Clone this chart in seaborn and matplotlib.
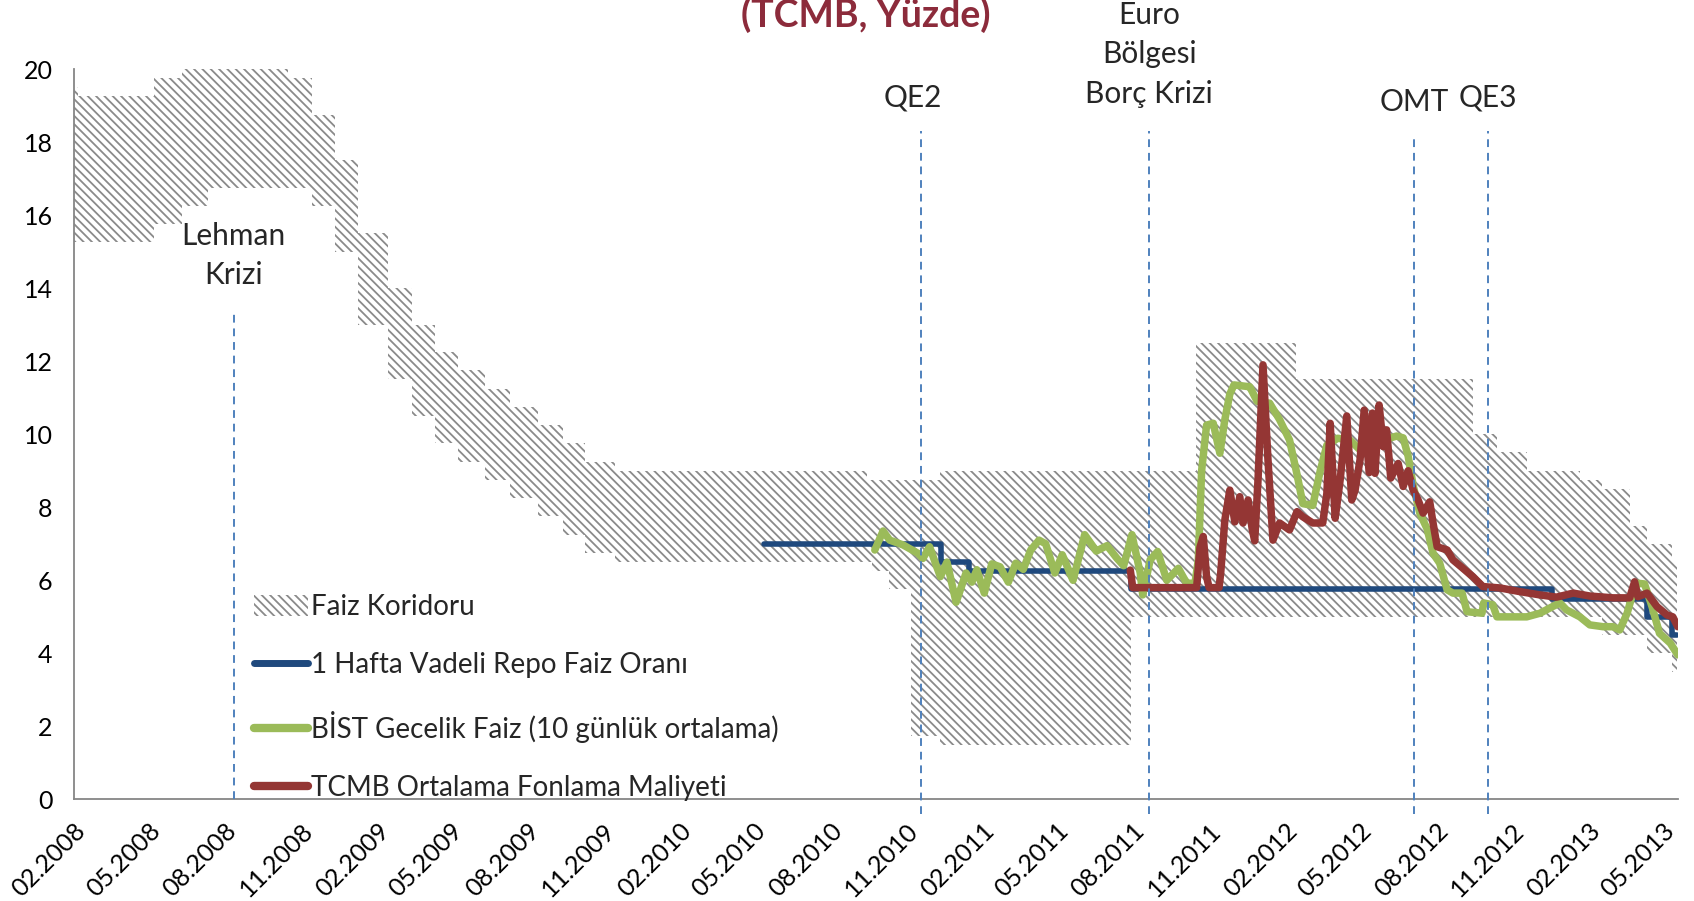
import pandas as pd
import numpy as np
import matplotlib
matplotlib.use("Agg")
import matplotlib.pyplot as plt
import matplotlib.dates as mdates
from matplotlib.patches import Patch
from matplotlib.lines import Line2D
import seaborn as sns

# =========================================
# DATA
# =========================================

# interest rate corridor: step changes (overnight borrowing / lending rate)
corridor_dates = ['2008-02-01', '2008-02-06', '2008-05-08', '2008-06-11', '2008-07-12',
                  '2008-10-17', '2008-11-15', '2008-12-12', '2009-01-09', '2009-02-14',
                  '2009-03-15', '2009-04-12', '2009-05-10', '2009-06-11', '2009-07-11',
                  '2009-08-14', '2009-09-13', '2009-10-10', '2009-11-15', '2010-09-14',
                  '2010-09-21', '2010-10-11', '2010-11-07', '2010-12-12', '2011-07-30',
                  '2011-10-16', '2012-02-14', '2012-09-14', '2012-10-13', '2012-11-18',
                  '2013-01-21', '2013-02-17', '2013-03-23', '2013-04-12', '2013-05-12',
                  '2013-05-18']
corridor_lower = [15.25, 15.25, 15.75, 16.25, 16.75, 16.75, 16.25, 15.0, 13.0, 11.5,
                  10.5, 9.75, 9.25, 8.75, 8.25, 7.75, 7.25, 6.75, 6.5, 6.5,
                  6.25, 5.75, 1.75, 1.5, 5.0, 5.0, 5.0, 5.0, 5.0, 5.0,
                  5.0, 4.5, 4.5, 4.0, 3.5, 3.5]
corridor_upper = [19.5, 19.25, 19.75, 20.25, 20.75, 19.75, 18.75, 17.5, 15.5, 14.0,
                  13.0, 12.25, 11.75, 11.25, 10.75, 10.25, 9.75, 9.25, 9.0, 8.75,
                  8.75, 8.75, 8.75, 9.0, 9.0, 12.5, 11.5, 10.0, 9.5, 9.0,
                  8.75, 8.5, 7.5, 7.0, 6.5, 6.5]

# 1 week repo rate (policy rate)
repo_dates = ['2010-05-14', '2010-12-13', '2011-01-16', '2011-07-30',
              '2012-12-18', '2013-04-12', '2013-05-12', '2013-05-18']
repo_rate = [7.0, 6.5, 6.25, 5.75, 5.5, 5.0, 4.5, 4.5]

# BIST overnight rate (10 day average) - days since 01.02.2008
green_day = [966, 976, 984, 1000, 1018, 1024, 1032, 1045, 1053, 1064,
             1076, 1083, 1089, 1098, 1107, 1117, 1127, 1136, 1145, 1154,
             1164, 1172, 1183, 1192, 1205, 1219, 1233, 1246, 1258, 1266,
             1276, 1286, 1289, 1298, 1307, 1318, 1332, 1342, 1352, 1356,
             1360, 1366, 1374, 1382, 1388, 1394, 1399, 1418, 1427, 1442,
             1454, 1466, 1475, 1482, 1494, 1503, 1511, 1524, 1539, 1554,
             1579, 1595, 1603, 1609, 1615, 1623, 1632, 1639, 1647, 1656,
             1663, 1674, 1680, 1698, 1700, 1711, 1716, 1735, 1752, 1768,
             1783, 1792, 1800, 1816, 1828, 1844, 1856, 1864, 1873, 1880,
             1886, 1894, 1903, 1912, 1925, 1934]
green_val = [6.83, 7.35, 7.1, 6.97, 6.74, 6.6, 6.92, 6.1, 6.5, 5.4,
             6.2, 5.95, 6.29, 5.65, 6.45, 6.37, 5.95, 6.47, 6.3, 6.83,
             7.1, 7.0, 6.2, 6.7, 6.0, 7.25, 6.8, 6.95, 6.6, 6.4,
             7.25, 6.2, 5.6, 6.56, 6.79, 6.0, 6.33, 5.92, 5.92, 6.56,
             9.0, 10.25, 10.3, 9.48, 10.4, 11.1, 11.35, 11.3, 10.9, 10.85,
             10.4, 9.84, 8.9, 8.1, 8.05, 9.0, 9.7, 9.89, 9.84, 9.5,
             9.84, 9.95, 9.9, 9.4, 8.6, 7.84, 7.4, 6.74, 6.47, 5.74,
             5.65, 5.65, 5.14, 5.1, 5.38, 5.33, 5.0, 5.0, 5.0, 5.1,
             5.28, 5.38, 5.19, 5.0, 4.78, 4.73, 4.73, 4.64, 5.1, 5.65,
             5.92, 5.9, 5.28, 4.55, 4.28, 3.96]

# TCMB average funding cost - days since 01.02.2008
red_day = [1274, 1277, 1354, 1358, 1362, 1366, 1369, 1381, 1383, 1388,
           1394, 1400, 1406, 1410, 1416, 1421, 1424, 1428, 1434, 1440,
           1446, 1454, 1466, 1475, 1482, 1494, 1506, 1511, 1515, 1521,
           1527, 1535, 1541, 1545, 1551, 1556, 1562, 1566, 1569, 1574,
           1579, 1583, 1588, 1597, 1603, 1609, 1615, 1621, 1627, 1635,
           1639, 1644, 1656, 1663, 1675, 1687, 1699, 1720, 1744, 1768,
           1788, 1808, 1828, 1856, 1876, 1882, 1886, 1897, 1909, 1921,
           1928, 1934]
red_val = [6.28, 5.8, 5.8, 6.9, 7.2, 6.1, 5.8, 5.8, 6.2, 7.65,
           8.47, 7.6, 8.29, 7.57, 8.2, 7.4, 7.08, 8.75, 11.9, 9.3,
           7.1, 7.57, 7.38, 7.88, 7.74, 7.57, 7.57, 8.38, 10.3, 7.7,
           8.75, 10.5, 8.2, 8.47, 9.3, 10.66, 8.95, 10.58, 8.93, 10.8,
           9.66, 10.12, 8.8, 9.2, 8.57, 9.0, 8.47, 8.2, 7.84, 8.15,
           7.57, 6.92, 6.83, 6.56, 6.33, 6.1, 5.83, 5.79, 5.69, 5.6,
           5.54, 5.65, 5.57, 5.52, 5.52, 5.96, 5.55, 5.65, 5.28, 5.05,
           5.0, 4.73]

# events
event_names = ['Lehman\nKrizi', 'QE2', 'Euro\nBölgesi\nBorç Krizi', 'OMT', 'QE3']
event_dates = ['2008-08-12', '2010-11-19', '2011-08-21', '2012-07-05', '2012-10-02']
event_top = [13.3, 18.3, 18.3, 18.2, 18.3]
event_bottom = [0, -0.4, -0.4, -0.4, -0.4]
event_text_y = [14.9, 19.23, 20.4, 19.1, 19.23]
event_text_dx = [0, -6, 0, 0, 0]

legend_labels = ['Faiz Koridoru', '1 Hafta Vadeli Repo Faiz Oranı',
                 'BİST Gecelik Faiz (10 günlük ortalama)', 'TCMB Ortalama Fonlama Maliyeti']

# =========================================
# PREP
# =========================================

base = pd.Timestamp('2008-02-01')
corridor_x = pd.to_datetime(corridor_dates)
repo_x = pd.to_datetime(repo_dates)
green_x = base + pd.to_timedelta(green_day, unit='D')
red_x = base + pd.to_timedelta(red_day, unit='D')
event_x = pd.to_datetime(event_dates)

BLUE = '#1F497D'
GREEN = '#9BBB59'
RED = '#943634'
DASH = '#4F81BD'
HATCH = '#8a8a8a'
AXIS = '#868686'
HATCH_PATTERN = '\\\\\\\\'

# =========================================
# PLOT
# =========================================

sns.set_style("white")
plt.rcParams['font.family'] = ['Lato', 'DejaVu Sans']
plt.rcParams['hatch.linewidth'] = 1.3

fig = plt.figure(figsize=(16.94, 9.01), dpi=100)
ax = fig.add_axes([0.0434, 0.1127, 0.947, 0.8107])

ax.fill_between(corridor_x, corridor_lower, corridor_upper, step='post',
                facecolor='none', edgecolor=HATCH, hatch=HATCH_PATTERN, linewidth=0,
                zorder=1)

sns.lineplot(x=repo_x, y=repo_rate, ax=ax, color=BLUE, linewidth=4,
             drawstyle='steps-post', legend=False, zorder=2)
sns.lineplot(x=green_x, y=green_val, ax=ax, color=GREEN, linewidth=5.4,
             legend=False, zorder=3)
sns.lineplot(x=red_x, y=red_val, ax=ax, color=RED, linewidth=5.4,
             legend=False, zorder=4)

ax.vlines(event_x, event_bottom, event_top, colors=DASH, linestyles=(0, (4, 3)),
          linewidth=1.4, clip_on=False, zorder=5)

for name, x, y, dx in zip(event_names, event_x, event_text_y, event_text_dx):
    ax.annotate(name, xy=(x, y), xytext=(dx, 0), textcoords='offset points',
                ha='center', va='center', fontsize=21.5, linespacing=1.5,
                annotation_clip=False)

# axes
ax.set_ylim(0, 20)
ax.set_yticks(np.arange(0, 21, 2))
ax.set_xlim(base, pd.Timestamp('2013-05-19'))
ax.xaxis.set_major_locator(mdates.MonthLocator(bymonth=[2, 5, 8, 11], bymonthday=1))
ax.xaxis.set_major_formatter(mdates.DateFormatter('%m.%Y'))
ax.set_xlabel('')
ax.set_ylabel('')

sns.despine(ax=ax)
for side in ['left', 'bottom']:
    ax.spines[side].set_color(AXIS)
    ax.spines[side].set_linewidth(1.3)

ax.tick_params(axis='both', direction='out', length=6, width=1.3, color=AXIS,
               labelsize=18, labelcolor='black')
ax.tick_params(axis='y', pad=9)
ax.tick_params(axis='x', pad=8)
plt.setp(ax.get_xticklabels(), rotation=45, ha='right', rotation_mode='anchor')

# legend
handles = [
    Patch(facecolor='white', edgecolor=HATCH, hatch=HATCH_PATTERN, linewidth=0),
    Line2D([], [], color=BLUE, linewidth=5, solid_capstyle='round'),
    Line2D([], [], color=GREEN, linewidth=6, solid_capstyle='round'),
    Line2D([], [], color=RED, linewidth=6, solid_capstyle='round'),
]
ax.legend(handles, legend_labels, loc='upper left', bbox_to_anchor=(0.1125, 0.281),
          frameon=False, fontsize=20, handlelength=1.95, handleheight=0.8,
          handletextpad=0.12, labelspacing=1.16, borderpad=0, borderaxespad=0)

# title (cut at top in the reference)
fig.text(0.511, 1 - 27 / 901, '(TCMB, Yüzde)', ha='center', va='baseline',
         fontsize=27, fontweight='bold', color='#8C2B3B')

plt.savefig('out.png', dpi=100)
